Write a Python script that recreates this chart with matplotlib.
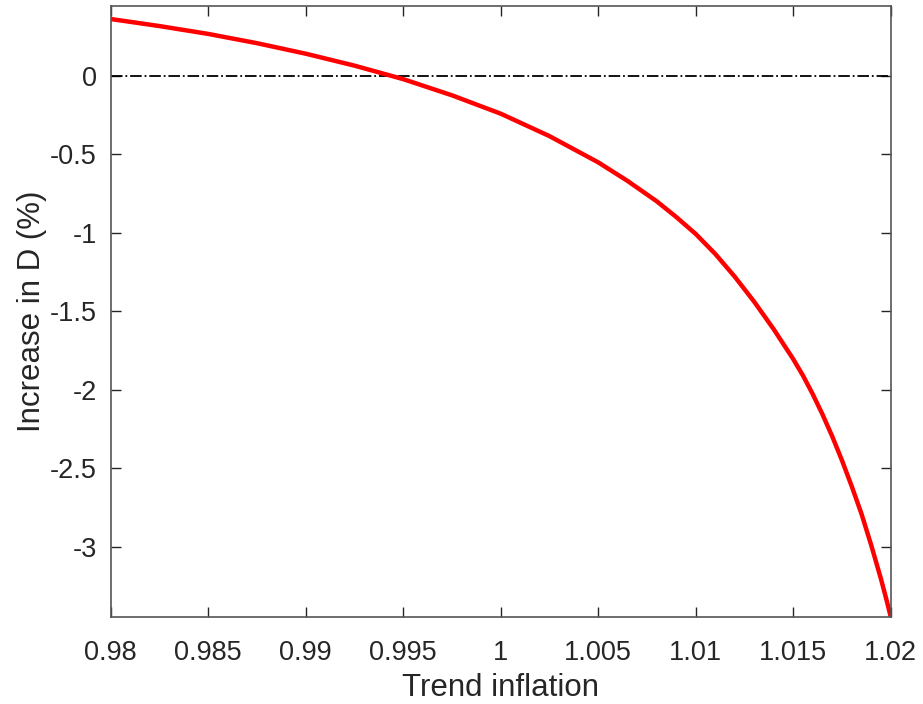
import matplotlib
matplotlib.use('Agg')
import matplotlib.pyplot as plt

# values
trend_inflation = [0.9800, 0.9825, 0.9850, 0.9875, 0.9900, 0.9925, 0.9950, 0.9975,
                   1.0000, 1.0025, 1.0050, 1.0065, 1.0080, 1.0090, 1.0100, 1.0110,
                   1.0120, 1.0130, 1.0140, 1.0150, 1.0155, 1.0160, 1.0165, 1.0170,
                   1.0175, 1.0180, 1.0185, 1.0190, 1.0195, 1.0198, 1.0200]
increase_d = [0.361, 0.316, 0.266, 0.207, 0.140, 0.064, -0.022, -0.125,
              -0.242, -0.385, -0.552, -0.670, -0.800, -0.900, -1.008, -1.135,
              -1.280, -1.440, -1.615, -1.805, -1.910, -2.028, -2.157, -2.297,
              -2.450, -2.615, -2.790, -2.990, -3.205, -3.346, -3.446]

x_ticks = [0.98, 0.985, 0.99, 0.995, 1.0, 1.005, 1.01, 1.015, 1.02]
y_ticks = [-3, -2.5, -2, -1.5, -1, -0.5, 0]

plt.rcParams['font.family'] = ['Liberation Sans', 'DejaVu Sans']
plt.rcParams['axes.unicode_minus'] = False
text_color = '#262626'

fig = plt.figure(figsize=(9.23, 7.04), dpi=100)
ax = fig.add_axes([0.120, 0.124, 0.845, 0.8675])

# zero reference line
ax.plot([x_ticks[0], x_ticks[-1]], [0, 0], color='black', linestyle='-.', linewidth=1.3)
ax.plot(trend_inflation, increase_d, color='red', linewidth=3.2,
        solid_capstyle='butt', solid_joinstyle='round')

ax.set_xlim(0.98, 1.02)
ax.set_ylim(-3.446, 0.444)
ax.set_xticks(x_ticks)
ax.set_xticklabels(['%g' % v for v in x_ticks])
ax.set_yticks(y_ticks)
ax.set_yticklabels(['%g' % v for v in y_ticks])

ax.tick_params(direction='in', length=7, width=1, top=True, right=True,
               labelsize=19.5, colors=text_color)
ax.tick_params(axis='x', pad=17)
ax.tick_params(axis='y', pad=10)
for spine in ax.spines.values():
    spine.set_color('#555555')
    spine.set_linewidth(1.2)

ax.set_xlabel('Trend inflation', fontsize=22.5, color=text_color, labelpad=5)
ax.set_ylabel('Increase in D (%)', fontsize=22.5, color=text_color, labelpad=2)

fig.savefig('out.png', dpi=100)
